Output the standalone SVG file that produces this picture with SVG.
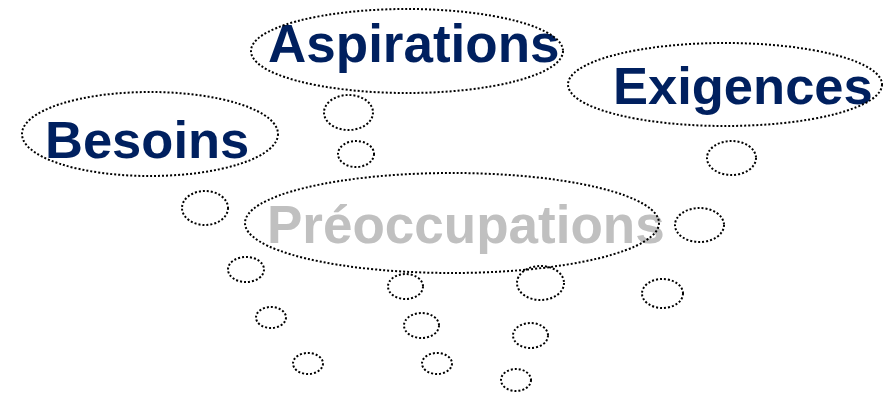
<svg xmlns="http://www.w3.org/2000/svg" width="894" height="393" viewBox="0 0 894 393">
<style>
.dot{fill:none;stroke:#000;stroke-width:2;stroke-dasharray:2 2}
.lbl{font-family:"Liberation Sans",Arial,sans-serif;font-weight:bold;fill:#00205F}
.gray{font-family:"Liberation Sans",Arial,sans-serif;font-weight:bold;fill:#C0C0C0}
</style>
<rect width="894" height="393" fill="#fff"/>
<g id="preoccupations">
<text class="gray" x="267" y="243" font-size="53">Préoccupations</text>
<ellipse class="dot" cx="452" cy="223" rx="207" ry="50"/>
</g>
<g id="besoins">
<text class="lbl" x="45" y="158" font-size="52.5">Besoins</text>
<ellipse class="dot" cx="150" cy="134" rx="128" ry="42"/>
</g>
<g id="aspirations">
<text class="lbl" x="268" y="62" font-size="53">Aspirations</text>
<ellipse class="dot" cx="407" cy="51" rx="156" ry="42"/>
</g>
<g id="exigences">
<text class="lbl" x="613" y="104" font-size="52.5">Exigences</text>
<ellipse class="dot" cx="725" cy="84.5" rx="157" ry="41.5"/>
</g>
<g id="connectors">
<ellipse class="dot" cx="348.5" cy="112.5" rx="24.5" ry="17.5"/>
<ellipse class="dot" cx="356" cy="154" rx="18" ry="13"/>
<ellipse class="dot" cx="731.5" cy="158" rx="24.5" ry="17"/>
<ellipse class="dot" cx="699.5" cy="225" rx="24.5" ry="17"/>
<ellipse class="dot" cx="205" cy="208" rx="23" ry="17"/>
<ellipse class="dot" cx="246" cy="269.5" rx="18" ry="12.5"/>
<ellipse class="dot" cx="271" cy="317.5" rx="15" ry="10.5"/>
<ellipse class="dot" cx="308" cy="363.5" rx="15" ry="10.5"/>
<ellipse class="dot" cx="405.5" cy="286.5" rx="17.5" ry="12.5"/>
<ellipse class="dot" cx="421.5" cy="325.5" rx="17.5" ry="12.5"/>
<ellipse class="dot" cx="437" cy="363.5" rx="15" ry="10.5"/>
<ellipse class="dot" cx="540.5" cy="283" rx="23.5" ry="17"/>
<ellipse class="dot" cx="530.5" cy="335.5" rx="17.5" ry="12.5"/>
<ellipse class="dot" cx="516" cy="380" rx="15" ry="11"/>
<ellipse class="dot" cx="662.5" cy="293.5" rx="20.5" ry="14.5"/>
</g>
</svg>
